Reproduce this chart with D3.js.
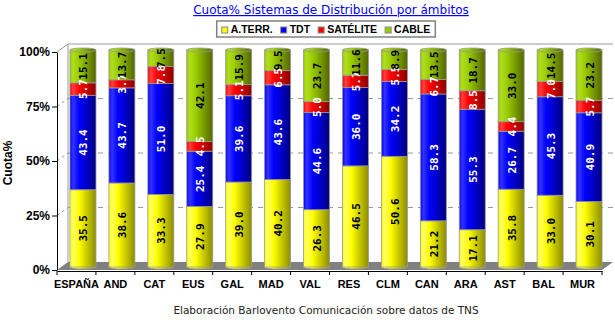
<!DOCTYPE html>
<html><head><meta charset="utf-8">
<script src="https://cdn.jsdelivr.net/npm/d3@7"></script>
<style>
html,body{margin:0;padding:0;background:#fff;}
svg{display:block;}
</style>
</head><body>
<svg id="chart" width="615" height="324"></svg>
<script>
const categories = ["ESPAÑA","AND","CAT","EUS","GAL","MAD","VAL","RES","CLM","CAN","ARA","AST","BAL","MUR"];
const seriesNames = ["A.TERR.","TDT","SATÉLITE","CABLE"];
const aterr    = [35.5,38.6,33.3,27.9,39.0,40.2,26.3,46.5,50.6,21.2,17.1,35.8,33.0,30.1];
const tdt      = [43.4,43.7,51.0,25.4,39.6,43.6,44.6,36.0,34.2,58.3,55.3,26.7,45.3,40.9];
const satelite = [5.7,3.7,7.8,4.5,5.1,6.5,5.0,5.7,5.5,6.7,8.5,4.4,7.0,5.7];
const cable    = [15.1,13.7,7.5,42.1,15.9,9.5,23.7,11.6,8.9,13.5,18.7,33.0,14.5,23.2];
const yTicks = [0,25,50,75,100];
const titleText = "Cuota% Sistemas de Distribución por ámbitos";
const yAxisTitle = "Cuota%";
const footerText = "Elaboración Barlovento Comunicación sobre datos de TNS";

const colors = [
  {light:"#ffff66", base:"#ffff00", dark:"#8c8c00", text:"#000"},
  {light:"#3333ff", base:"#0000ff", dark:"#000080", text:"#fff"},
  {light:"#ff4040", base:"#ff0000", dark:"#8c0000", text:"#fff"},
  {light:"#b0dd20", base:"#99cc00", dark:"#556600", text:"#000"}
];

const svg = d3.select("#chart");
const defs = svg.append("defs");
colors.forEach((c,i)=>{
  const g = defs.append("linearGradient").attr("id","grad"+i).attr("x1","0").attr("x2","1").attr("y1","0").attr("y2","0");
  g.append("stop").attr("offset","0").attr("stop-color",c.base);
  g.append("stop").attr("offset","0.12").attr("stop-color",c.light);
  g.append("stop").attr("offset","0.35").attr("stop-color",c.base);
  g.append("stop").attr("offset","1").attr("stop-color",c.dark);
});

const dx = 11, dy = -8;
const x = d3.scaleBand().domain(categories).range([57, 602]).padding(0);
const y = d3.scaleLinear().domain([0,100]).range([270, 52]);
const yBar = d3.scaleLinear().domain([0,1]).range([267, 50]);

// Title
svg.append("text").attr("x", 331).attr("y", 14).attr("text-anchor","middle")
  .attr("font-family","DejaVu Sans, Verdana, sans-serif").attr("font-size",12)
  .attr("fill","#0000ff").attr("text-decoration","underline").text(titleText);

// Back wall
const x0 = x.range()[0], x1 = x.range()[1];
svg.append("line").attr("x1", x0+dx).attr("x2", x1+dx).attr("y1", y(100)+dy).attr("y2", y(100)+dy).attr("stroke","#999");
svg.append("line").attr("x1", x0+dx).attr("x2", x0+dx).attr("y1", y(100)+dy).attr("y2", y(0)+dy).attr("stroke","#999");
svg.append("line").attr("x1", x0).attr("x2", x0+dx).attr("y1", y(100)).attr("y2", y(100)+dy).attr("stroke","#999");

// gridlines
yTicks.filter(t=>t>0 && t<100).forEach(t=>{
  svg.append("line").attr("x1", x0+dx).attr("x2", x1+dx).attr("y1", y(t)+dy).attr("y2", y(t)+dy)
    .attr("stroke","#999").attr("stroke-dasharray","5,5");
  svg.append("line").attr("x1", x0).attr("x2", x0+dx).attr("y1", y(t)).attr("y2", y(t)+dy)
    .attr("stroke","#999").attr("stroke-dasharray","3,3");
});

// Floor
svg.append("polygon")
  .attr("points", [[x0,y(0)],[x1,y(0)],[x1+dx,y(0)+dy],[x0+dx,y(0)+dy]].map(p=>p.join(",")).join(" "))
  .attr("fill","#808080");

// Bars
const data = categories.map((c,i)=>({cat:c, vals:[aterr[i],tdt[i],satelite[i],cable[i]]}));
const bw = 26;
const gBars = svg.append("g");
data.forEach(d=>{
  const total = d3.sum(d.vals);
  const cx = x(d.cat) + x.bandwidth()/2 + 6.5;
  const g = gBars.append("g");
  g.append("ellipse").attr("cx",cx).attr("cy",yBar(0)).attr("rx",bw/2).attr("ry",2)
    .attr("fill","url(#grad0)").attr("stroke","#999").attr("stroke-width",0.8);
  let cum = 0;
  d.vals.forEach((v,k)=>{
    const a = cum/total, b = (cum+v)/total;
    cum += v;
    g.append("rect").attr("x",cx-bw/2).attr("width",bw)
      .attr("y",yBar(b)).attr("height",yBar(a)-yBar(b))
      .attr("fill","url(#grad"+k+")").attr("stroke","#999").attr("stroke-width",0.8);
  });
  g.append("ellipse").attr("cx",cx).attr("cy",yBar(1)).attr("rx",bw/2).attr("ry",2)
    .attr("fill","url(#grad3)").attr("stroke","#999").attr("stroke-width",0.8);
  cum = 0;
  d.vals.forEach((v,k)=>{
    const mid = (cum + v/2)/total;
    cum += v;
    const ty = yBar(mid);
    g.append("text").attr("transform",`translate(${cx+1},${ty}) rotate(-90)`)
      .attr("text-anchor","middle").attr("dominant-baseline","central")
      .attr("font-family","DejaVu Sans Mono, monospace").attr("font-weight","bold")
      .attr("font-size",11).attr("fill",colors[k].text).text(v.toFixed(1));
  });
});

// Y axis
const yAxisG = svg.append("g").attr("transform",`translate(${x0},0)`)
  .call(d3.axisLeft(y).tickValues(yTicks).tickFormat(d=>d+"%").tickSize(5).tickSizeOuter(0));
yAxisG.select(".domain").attr("stroke","#000");
yAxisG.selectAll(".tick line").attr("stroke","#000");
yAxisG.selectAll("text").attr("font-family","Liberation Sans, Arial, sans-serif").attr("font-weight","bold")
  .attr("font-size",12).attr("fill","#000").attr("x",-7);

// X axis
const xAxisG = svg.append("g").attr("transform",`translate(0,${y(0)+1})`)
  .call(d3.axisBottom(x).tickSize(0).tickSizeOuter(0));
xAxisG.select(".domain").attr("stroke","#000");
xAxisG.selectAll("text").attr("font-family","Liberation Sans, Arial, sans-serif").attr("font-weight","bold")
  .attr("font-size",11).attr("fill","#000").attr("y",9);
const bounds = categories.map(c=>x(c)).concat([x1]);
xAxisG.selectAll(".bt").data(bounds).enter().append("line")
  .attr("x1",d=>d).attr("x2",d=>d).attr("y1",0).attr("y2",4).attr("stroke","#000");

// Y axis title
svg.append("text").attr("transform",`translate(12,163) rotate(-90)`).attr("text-anchor","middle")
  .attr("font-family","Liberation Sans, Arial, sans-serif").attr("font-weight","bold").attr("font-size",12)
  .attr("fill","#000").text(yAxisTitle);

// Footer
svg.append("text").attr("x",326).attr("y",314).attr("text-anchor","middle")
  .attr("font-family","DejaVu Sans, Verdana, sans-serif").attr("font-size",10.5)
  .attr("fill","#222").text(footerText);

// Legend
const leg = svg.append("g");
let lx = 0;
seriesNames.forEach((n,k)=>{
  const it = leg.append("g").attr("transform",`translate(${lx},0)`);
  it.append("rect").attr("x",0).attr("y",-6).attr("width",6).attr("height",6)
    .attr("fill",colors[k].base).attr("stroke","#888").attr("stroke-width",1);
  const t = it.append("text").attr("x",9).attr("y",0)
    .attr("font-family","Liberation Sans, Arial, sans-serif").attr("font-weight","bold").attr("font-size",10.5)
    .attr("fill","#000").text(n);
  lx += 9 + t.node().getComputedTextLength() + 8;
});
const legW = lx - 8;
const legX = 326 - legW/2, legY = 33;
leg.attr("transform",`translate(${legX},${legY})`);
svg.insert("rect", "g").attr("x",legX-5).attr("y",legY-12).attr("width",legW+10).attr("height",16)
  .attr("fill","#fff").attr("stroke","#808080").attr("stroke-width",1.5);
</script>
</body></html>
